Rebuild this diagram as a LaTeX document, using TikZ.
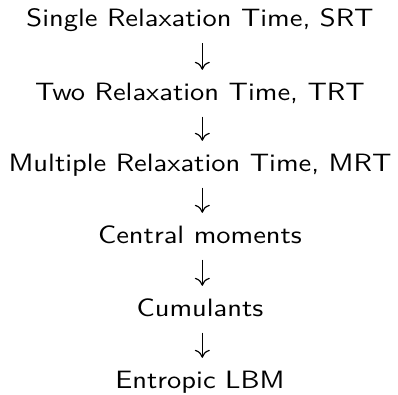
\documentclass[tikz,border=0pt]{standalone}
\usepackage{graphicx}
\usepackage{fontspec}
\usetikzlibrary{arrows.meta}
% the 10pt design of Latin Modern Sans, used at a large size
\newfontfamily\stagefont{lmsans10-regular.otf}
% stage labels are compressed vertically
\newcommand{\stagetext}[1]{\scalebox{1}[0.88]{#1}}
\begin{document}
\begin{tikzpicture}[x=1pt,y=-1pt,
  stage/.style={anchor=base,inner sep=0pt,text height=17pt,text depth=7pt,
    font=\stagefont\fontsize{28.5}{36}\selectfont},
  flow/.style={line width=1.2pt,shorten <=9.5pt,shorten >=13pt,
    -{Computer Modern Rightarrow[length=8pt,width=15pt]}}]
\useasboundingbox (0,0) rectangle (398,394);
\node[stage] (srt)  at (200,26.7) {\stagetext{Single Relaxation Time, SRT}};
\node[stage] (trt)  at (200,100)  {\stagetext{Two Relaxation Time, TRT}};
\node[stage] (mrt)  at (200,171)  {\stagetext{Multiple Relaxation Time, MRT}};
\node[stage] (cm)   at (200,243)  {\stagetext{Central moments}};
\node[stage] (cum)  at (200,316)  {\stagetext{Cumulants}};
\node[stage] (elbm) at (200,388)  {\stagetext{Entropic LBM}};
\foreach \a/\b in {srt/trt,trt/mrt,mrt/cm,cm/cum,cum/elbm}
  \draw[flow] ([xshift=2.3pt]\a.south) -- ([xshift=2.3pt]\b.north);
\end{tikzpicture}
\end{document}
